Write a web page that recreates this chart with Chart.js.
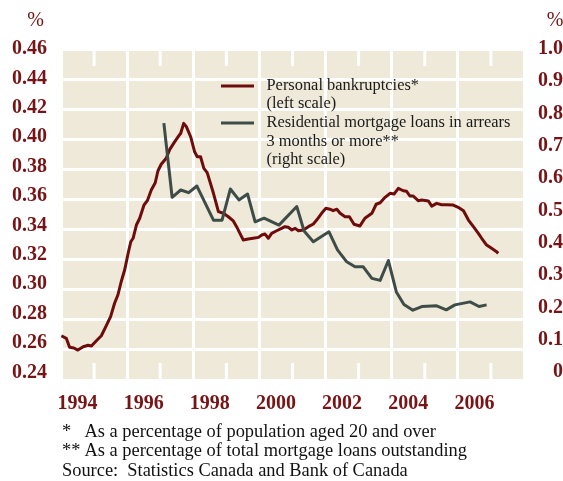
<!DOCTYPE html>
<html><head><meta charset="utf-8">
<script src="https://cdn.jsdelivr.net/npm/chart.js@4.4.0/dist/chart.umd.min.js"></script>
<style>html,body{margin:0;padding:0;background:#fff;}#wrap{width:563px;height:481px;position:relative;}</style>
</head><body><div id="wrap"><canvas id="c" width="563" height="481"></canvas></div>
<script>
// ---- data ----
const redYears = [1994.01,1994.16,1994.26,1994.39,1994.51,1994.67,1994.82,1994.92,1995.07,1995.22,
1995.37,1995.50,1995.62,1995.72,1995.82,1995.93,1996.03,1996.11,1996.18,1996.28,
1996.38,1996.51,1996.61,1996.73,1996.85,1996.93,1997.03,1997.18,1997.29,1997.44,
1997.56,1997.62,1997.71,1997.79,1997.92,1998.04,1998.12,1998.22,1998.32,1998.42,
1998.61,1998.76,1998.91,1999.06,1999.21,1999.31,1999.41,1999.51,1999.66,1999.81,
1999.97,2000.07,2000.17,2000.27,2000.37,2000.52,2000.67,2000.77,2000.87,2000.98,
2001.08,2001.18,2001.33,2001.48,2001.63,2001.73,2001.88,2002.01,2002.13,2002.23,
2002.34,2002.44,2002.59,2002.72,2002.86,2003.04,2003.19,2003.40,2003.53,2003.65,
2003.80,2003.95,2004.07,2004.20,2004.35,2004.45,2004.55,2004.65,2004.80,2004.91,
2005.11,2005.21,2005.36,2005.51,2005.66,2005.86,2006.01,2006.17,2006.32,2006.47,
2006.62,2006.72,2006.87,2007.02,2007.17,2007.22];
const redValues = [0.2694,0.2677,0.2617,0.2613,0.2599,0.2621,0.2631,0.2626,0.2661,0.2694,
0.2761,0.2821,0.2910,0.2965,0.3053,0.3136,0.3242,0.3319,0.3342,0.3430,
0.3475,0.3563,0.3592,0.3663,0.3711,0.3789,0.3834,0.3874,0.3933,0.3984,
0.4022,0.4040,0.4106,0.4084,0.4017,0.3917,0.3884,0.3884,0.3807,0.3778,
0.3641,0.3519,0.3508,0.3485,0.3457,0.3419,0.3375,0.3331,0.3337,0.3342,
0.3348,0.3364,0.3370,0.3342,0.3375,0.3392,0.3408,0.3419,0.3415,0.3397,
0.3408,0.3392,0.3397,0.3419,0.3437,0.3463,0.3508,0.3541,0.3535,0.3525,
0.3535,0.3508,0.3485,0.3485,0.3435,0.3424,0.3475,0.3508,0.3568,0.3578,
0.3614,0.3641,0.3636,0.3674,0.3658,0.3654,0.3623,0.3623,0.3592,0.3596,
0.3590,0.3556,0.3574,0.3565,0.3565,0.3563,0.3548,0.3525,0.3463,0.3419,
0.3375,0.3342,0.3297,0.3275,0.3253,0.3242];
const greenYears = [1997.11,1997.36,1997.62,1997.86,1998.11,1998.61,1998.87,1999.12,1999.38,1999.64,
1999.87,2000.14,2000.59,2001.13,2001.35,2001.63,2002.10,2002.36,2002.64,2002.89,
2003.14,2003.40,2003.65,2003.90,2004.14,2004.37,2004.64,2004.91,2005.36,2005.65,
2005.91,2006.37,2006.64,2006.87];
const greenValues = [0.776,0.552,0.574,0.566,0.586,0.483,0.483,0.577,0.544,0.562,
0.478,0.489,0.468,0.524,0.450,0.418,0.448,0.393,0.357,0.342,
0.342,0.307,0.301,0.361,0.266,0.228,0.211,0.222,0.224,0.212,
0.227,0.236,0.222,0.227];
const leftTicks = [0.24,0.26,0.28,0.30,0.32,0.34,0.36,0.38,0.40,0.42,0.44,0.46];
const rightTicks = [0,0.1,0.2,0.3,0.4,0.5,0.6,0.7,0.8,0.9,1.0];
const yearLabels = [1994,1996,1998,2000,2002,2004,2006];
const xRange = [1994, 2008];
const seriesNames = [
  ['Personal bankruptcies*','(left scale)'],
  ['Residential mortgage loans in arrears','3 months or more**','(right scale)']
];
const footnotes = [
  ['*','As a percentage of population aged 20 and over'],
  ['**','As a percentage of total mortgage loans outstanding'],
  ['','Source:  Statistics Canada and Bank of Canada']
];

// ---- style ----
const MAROON = '#6E0C0C';
const LABEL = '#761416';
const SLATE = '#3E4C48';
const BG = '#EEE9D8';
const FONT = '"Liberation Serif", "Times New Roman", serif';

const bgPlugin = {
  id: 'bg',
  beforeDraw(chart) {
    const a = chart.chartArea, c = chart.ctx;
    c.save(); c.fillStyle = BG; c.fillRect(a.left, a.top, a.right - a.left, a.bottom - a.top); c.restore();
  },
  beforeDatasetsDraw(chart) {
    const a = chart.chartArea, c = chart.ctx, x = chart.scales.x;
    c.save(); c.strokeStyle = '#fff'; c.lineWidth = 3;
    for (let yr = xRange[0]; yr <= xRange[1]; yr++) {
      if (yr % 2 === 0) continue;
      const px = x.getPixelForValue(yr);
      c.beginPath();
      c.moveTo(px, a.top); c.lineTo(px, a.top + 17);
      c.moveTo(px, a.bottom - 17); c.lineTo(px, a.bottom);
      c.stroke();
    }
    c.restore();
  },
  afterDraw(chart) {
    const c = chart.ctx;
    c.save();
    c.font = '20px ' + FONT; c.fillStyle = LABEL; c.textBaseline = 'middle'; c.textAlign = 'center';
    c.fillText('%', 35.5, 21);
    c.fillText('%', 555, 21);
    // legend
    const cols = [MAROON, SLATE];
    const ys = [[86,104],[123,141.5,160]];
    c.font = '16.4px ' + FONT; c.fillStyle = '#1A1A1A'; c.textAlign = 'left';
    seriesNames.forEach((lines, i) => {
      c.strokeStyle = cols[i]; c.lineWidth = 3;
      c.beginPath(); c.moveTo(221, ys[i][0]); c.lineTo(254, ys[i][0]); c.stroke();
      lines.forEach((t, j) => c.fillText(t, 266.5, ys[i][j]));
    });
    // footnotes
    c.font = '18.4px ' + FONT; c.fillStyle = '#111'; c.textBaseline = 'alphabetic';
    const fy = [436.5, 455.5, 476];
    footnotes.forEach((f, i) => {
      if (f[0]) { c.fillText(f[0], 62, fy[i]); c.fillText(f[1], 84.5, fy[i]); }
      else c.fillText(f[1], 62, fy[i]);
    });
    c.restore();
  }
};

const tickFont = { family: FONT, size: 20, weight: 'bold' };

new Chart(document.getElementById('c'), {
  type: 'line',
  data: {
    datasets: [
      { label: seriesNames[0].join(' '), data: redYears.map((x, i) => ({ x, y: redValues[i] })),
        yAxisID: 'y', borderColor: MAROON, borderWidth: 3, pointRadius: 0, tension: 0, order: 2, borderJoinStyle: 'round' },
      { label: seriesNames[1].join(' '), data: greenYears.map((x, i) => ({ x, y: greenValues[i] })),
        yAxisID: 'y2', borderColor: SLATE, borderWidth: 3, pointRadius: 0, tension: 0, order: 1, borderJoinStyle: 'round' }
    ]
  },
  options: {
    responsive: false, animation: false, devicePixelRatio: 1,
    layout: { padding: { top: 49, bottom: 71, left: 0, right: 0 } },
    plugins: { legend: { display: false }, tooltip: { enabled: false } },
    scales: {
      x: {
        type: 'linear', position: 'bottom', min: xRange[0], max: xRange[1],
        afterBuildTicks(s) {
          const t = [];
          for (let yr = xRange[0]; yr <= xRange[1]; yr++) t.push(yr);
          yearLabels.forEach(y => t.push(y + 0.5));
          t.sort((a, b) => a - b);
          s.ticks = t.map(v => ({ value: v }));
        },
        afterFit(s) { s.height = 30; },
        border: { display: false },
        grid: { color: ctx => (ctx.tick && Number.isInteger(ctx.tick.value) && ctx.tick.value % 2 === 0) ? '#fff' : 'rgba(0,0,0,0)', lineWidth: 3, drawTicks: false },
        ticks: { autoSkip: false, maxRotation: 0, padding: 12, color: LABEL, font: tickFont,
          callback: v => (Math.abs(v - Math.floor(v) - 0.5) < 1e-6 && yearLabels.includes(Math.floor(v))) ? String(Math.floor(v)) : '' }
      },
      y: {
        position: 'left', min: leftTicks[0], max: leftTicks[leftTicks.length - 1],
        afterBuildTicks(s) { s.ticks = leftTicks.map(v => ({ value: v })); },
        afterFit(s) { s.width = 0; },
        border: { display: false },
        grid: { color: '#fff', lineWidth: 3, drawTicks: false },
        ticks: { display: false }
      },
      yl: {
        position: 'left', min: 0.2348, max: leftTicks[leftTicks.length - 1],
        afterBuildTicks(s) { s.ticks = leftTicks.map(v => ({ value: v })); },
        afterFit(s) { s.width = 61; },
        border: { display: false },
        grid: { display: false, drawTicks: false },
        ticks: { padding: 14, color: LABEL, font: tickFont, callback: v => v.toFixed(2) }
      },
      y2: { position: 'right', display: false, min: rightTicks[0], max: rightTicks[rightTicks.length - 1] },
      yr: {
        position: 'right', min: -0.0248, max: rightTicks[rightTicks.length - 1],
        afterBuildTicks(s) { s.ticks = rightTicks.map(v => ({ value: v })); },
        afterFit(s) { s.width = 39; },
        border: { display: false },
        grid: { display: false, drawTicks: true, tickLength: 13 },
        ticks: { padding: 0, crossAlign: 'far', color: LABEL, font: tickFont, callback: v => v === 0 ? '0' : v.toFixed(1) }
      }
    }
  },
  plugins: [bgPlugin]
});
</script></body></html>
